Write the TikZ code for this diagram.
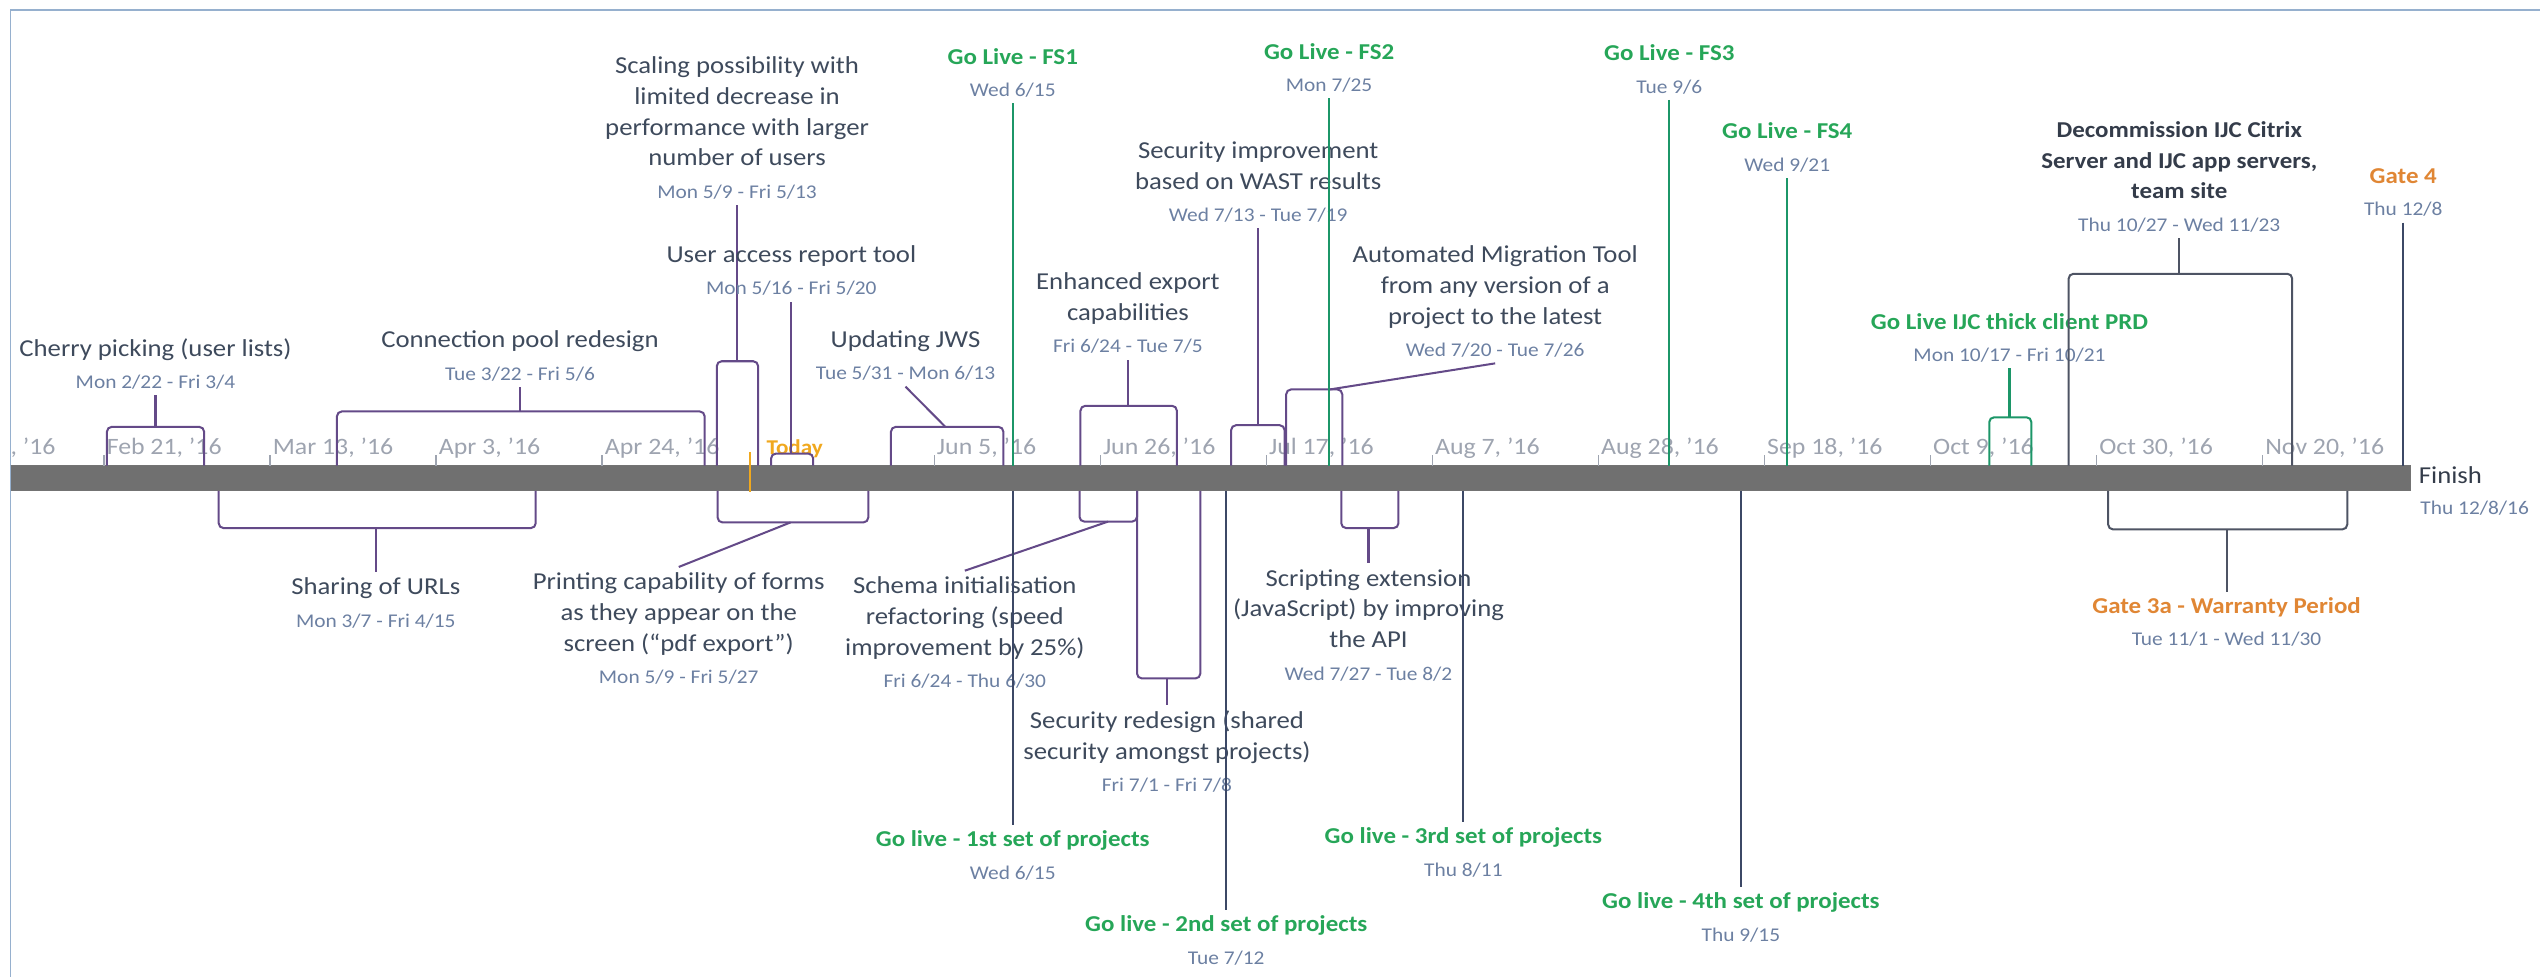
\documentclass[tikz,border=0pt]{standalone}
\usepackage{fontspec}
\setmainfont{Carlito}[FakeStretch=1.1]
\usepackage{tikz}
\usetikzlibrary{positioning}

\definecolor{taskcol}{RGB}{100,74,136}
\definecolor{labelcol}{RGB}{62,74,92}
\definecolor{datecol}{RGB}{108,128,162}
\definecolor{golive}{RGB}{38,166,88}
\definecolor{gocol}{RGB}{28,150,104}
\definecolor{navy}{RGB}{60,72,102}
\definecolor{slate}{RGB}{78,84,100}
\definecolor{gateor}{RGB}{224,134,52}
\definecolor{todayor}{RGB}{240,168,30}
\definecolor{tickcol}{RGB}{158,164,176}
\definecolor{barcol}{RGB}{112,112,112}
\definecolor{framecol}{RGB}{150,176,206}
\definecolor{deccol}{RGB}{52,60,74}

\newcommand\wdate[1]{{\mdseries\fontsize{12}{19}\selectfont\color{datecol}#1}}

\begin{document}
\begin{tikzpicture}[x=1pt, y=-1pt,
  lbl/.style={align=center, inner sep=3.5pt, text=labelcol, font=\fontsize{15}{19}\selectfont},
  gl/.style={lbl, text=golive, font=\bfseries\fontsize{14}{19}\selectfont},
  gatel/.style={gl, text=gateor},
  decl/.style={gl, text=deccol},
  ticklbl/.style={anchor=base west, inner sep=0pt, text=tickcol, font=\fontsize{14.5}{16}\selectfont},
  task/.style={draw=taskcol, line width=1.25pt, rounded corners=3pt},
  gobr/.style={task, draw=gocol},
  slatebr/.style={task, draw=slate},
  goline/.style={draw=gocol, line width=1.25pt},
  navyline/.style={draw=navy, line width=1.25pt}]
\useasboundingbox (0,0) rectangle (1568,603);
\draw[framecol, line width=1pt] (6.5,603) -- (6.5,6.2) -- (1568,6.2);

% the bar
\fill[barcol] (6.5,287.5) rectangle (1488,303);
\draw[black!55, line width=0.6pt] (6.5,287.5) -- (1488,287.5) -- (1488,303) -- (6.5,303);
\draw[tickcol, line width=0.8pt] (64.2,281) -- (64.2,287.5) (166.7,281) -- (166.7,287.5)
  (269.2,281) -- (269.2,287.5) (371.7,281) -- (371.7,287.5) (576.7,281) -- (576.7,287.5)
  (679.2,281) -- (679.2,287.5) (781.7,281) -- (781.7,287.5) (884.2,281) -- (884.2,287.5)
  (986.7,281) -- (986.7,287.5) (1089.2,281) -- (1089.2,287.5) (1191.7,281) -- (1191.7,287.5)
  (1294.2,281) -- (1294.2,287.5) (1396.7,281) -- (1396.7,287.5);
\node[ticklbl, anchor=base east] (jan31) at (34.5,280.5) {, '16};
\node[ticklbl] (feb21) at (65.7,280.5) {Feb 21, '16};
\node[ticklbl] (mar13) at (168.2,280.5) {Mar 13, '16};
\node[ticklbl] (apr3) at (270.7,280.5) {Apr 3, '16};
\node[ticklbl] (apr24) at (373.2,280.5) {Apr 24, '16};
\node[ticklbl] (jun5) at (578.2,280.5) {Jun 5, '16};
\node[ticklbl] (jun26) at (680.7,280.5) {Jun 26, '16};
\node[ticklbl] (jul17) at (783.2,280.5) {Jul 17, '16};
\node[ticklbl] (aug7) at (885.7,280.5) {Aug 7, '16};
\node[ticklbl] (aug28) at (988.2,280.5) {Aug 28, '16};
\node[ticklbl] (sep18) at (1090.7,280.5) {Sep 18, '16};
\node[ticklbl] (oct9) at (1193.2,280.5) {Oct 9, '16};
\node[ticklbl] (oct30) at (1295.7,280.5) {Oct 30, '16};
\node[ticklbl] (nov20) at (1398.2,280.5) {Nov 20, '16};
\node[ticklbl, text=todayor, font=\bfseries\fontsize{13}{16}\selectfont] (today) at (473,280.5) {Today};
\node[anchor=base west, inner sep=0pt, text=deccol, font=\fontsize{15}{19}\selectfont] (finish) at (1493,298.5) {Finish};
\node[anchor=base west, inner sep=0pt, text=datecol, font=\fontsize{12}{19}\selectfont] (finish-d) at (1494,317.8) {Thu 12/8/16};

% tasks above
\coordinate (cherry-t) at (96,263.5);
\draw[task] (66,287.5) |- (cherry-t) -| (126,287.5);
\node[lbl, above] (cherry) at (96,244) {Cherry picking (user lists)\\[1pt]\wdate{Mon 2/22 - Fri 3/4}};
\draw[task] (cherry-t) -- (cherry);

\coordinate (pool-t) at (321,254);
\draw[task] (208,287.5) |- (pool-t) -| (435,287.5);
\node[lbl, above] (pool) at (321,239) {Connection pool redesign\\[1pt]\wdate{Tue 3/22 - Fri 5/6}};
\draw[task] (pool-t) -- (pool);

\coordinate (scale-t) at (455,223);
\draw[task] (442.5,287.5) |- (scale-t) -| (468,287.5);
\node[lbl, above] (scale) at (455,126.6) {Scaling possibility with\\limited decrease in\\performance with larger\\number of users\\[1pt]\wdate{Mon 5/9 - Fri 5/13}};
\draw[task] (scale-t) -- (scale);

\coordinate (access-t) at (488.5,280);
\draw[task] (476,287.5) |- (access-t) -| (502,287.5);
\node[lbl, above] (access) at (488.5,186.3) {User access report tool\\[1pt]\wdate{Mon 5/16 - Fri 5/20}};
\draw[task] (access-t) -- (access);

\coordinate (jws-t) at (583.6,263.5);
\draw[task] (550,287.5) |- (jws-t) -| (619.4,287.5);
\node[lbl, above] (jws) at (559,238.7) {Updating JWS\\[1pt]\wdate{Tue 5/31 - Mon 6/13}};
\draw[task] (jws-t) -- (jws.south);

\coordinate (export-t) at (696.3,250.5);
\draw[task] (667,287.5) |- (export-t) -| (726.5,287.5);
\node[lbl, above] (export) at (696.3,222) {Enhanced export\\capabilities\\[1pt]\wdate{Fri 6/24 - Tue 7/5}};
\draw[task] (export-t) -- (export);

\coordinate (wast-t) at (776.7,262.5);
\draw[task] (760,287.5) |- (wast-t) -| (793,287.5);
\node[lbl, above] (wast) at (776.7,141) {Security improvement\\based on WAST results\\[1pt]\wdate{Wed 7/13 - Tue 7/19}};
\draw[task] (wast-t) -- (wast);

\coordinate (migr-t) at (821,240.4);
\draw[task] (794,287.5) |- (migr-t) -| (828.6,287.5);
\node[lbl, above] (migr) at (923,224.3) {Automated Migration Tool\\from any version of a\\project to the latest\\[1pt]\wdate{Wed 7/20 - Tue 7/26}};
\draw[task] (migr-t) -- (migr.south);

\coordinate (ijc-t) at (1240.5,257.6);
\draw[gobr] (1228,287.5) |- (ijc-t) -| (1254,287.5);
\node[gl, above] (ijc) at (1240.5,227.4) {Go Live IJC thick client PRD\\[1pt]\wdate{Mon 10/17 - Fri 10/21}};
\draw[goline] (ijc-t) -- (ijc);

\coordinate (decom-t) at (1345.3,169);
\draw[slatebr] (1277,287.5) |- (decom-t) -| (1415,287.5);
\node[decl, above] (decom) at (1345.3,147) {Decommission IJC Citrix\\Server and IJC app servers,\\team site\\[1pt]\wdate{Thu 10/27 - Wed 11/23}};
\draw[slatebr] (decom-t) -- (decom);

% milestones above
\coordinate (fs1-b) at (625.2,287.5);
\node[gl, above] (fs1) at (625.2,63.8) {Go Live - FS1\\[1pt]\wdate{Wed 6/15}};
\draw[goline] (fs1) -- (fs1-b);
\coordinate (fs2-b) at (820.5,287.5);
\node[gl, above] (fs2) at (820.5,60.7) {Go Live - FS2\\[1pt]\wdate{Mon 7/25}};
\draw[goline] (fs2) -- (fs2-b);
\coordinate (fs3-b) at (1030.5,287.5);
\node[gl, above] (fs3) at (1030.5,61.7) {Go Live - FS3\\[1pt]\wdate{Tue 9/6}};
\draw[goline] (fs3) -- (fs3-b);
\coordinate (fs4-b) at (1103.3,287.5);
\node[gl, above] (fs4) at (1103.3,110) {Go Live - FS4\\[1pt]\wdate{Wed 9/21}};
\draw[goline] (fs4) -- (fs4-b);
\coordinate (gate4-b) at (1483.6,287.5);
\node[gatel, above] (gate4) at (1483.6,137.5) {Gate 4\\[1pt]\wdate{Thu 12/8}};
\draw[navyline] (gate4) -- (gate4-b);

% tasks below
\coordinate (url-t) at (232,326);
\draw[task] (135,303) |- (url-t) -| (330.7,303);
\node[lbl, below] (url) at (232,353) {Sharing of URLs\\[1pt]\wdate{Mon 3/7 - Fri 4/15}};
\draw[task] (url-t) -- (url);

\coordinate (pdf-t) at (488,322.5);
\draw[task] (443,303) |- (pdf-t) -| (536,303);
\node[lbl, below] (pdf) at (419,350) {Printing capability of forms\\as they appear on the\\screen (“pdf export”)\\[1pt]\wdate{Mon 5/9 - Fri 5/27}};
\draw[task] (pdf-t) -- (pdf.north);

\coordinate (schema-t) at (684,322);
\draw[task] (666.4,303) |- (schema-t) -| (701.9,303);
\node[lbl, below] (schema) at (595.6,352.3) {Schema initialisation\\refactoring (speed\\improvement by 25\%)\\[1pt]\wdate{Fri 6/24 - Thu 6/30}};
\draw[task] (schema-t) -- (schema.north);

\coordinate (secred-t) at (720.4,418.8);
\draw[task] (701.9,303) |- (secred-t) -| (741,303);
\node[lbl, below] (secred) at (720.4,435.2) {Security redesign (shared\\security amongst projects)\\[1pt]\wdate{Fri 7/1 - Fri 7/8}};
\draw[task] (secred-t) -- (secred);

\coordinate (script-t) at (844.8,326);
\draw[task] (828,303) |- (script-t) -| (863.3,303);
\node[lbl, below] (script) at (844.8,347.8) {Scripting extension\\(JavaScript) by improving\\the API\\[1pt]\wdate{Wed 7/27 - Tue 8/2}};
\draw[task] (script-t) -- (script);

\coordinate (warranty-t) at (1374.5,326.8);
\draw[slatebr] (1301.4,303) |- (warranty-t) -| (1449,303);
\node[gatel, below] (warranty) at (1374.5,365.2) {Gate 3a - Warranty Period\\[1pt]\wdate{Tue 11/1 - Wed 11/30}};
\draw[slatebr] (warranty-t) -- (warranty);

% milestones below
\coordinate (set1-b) at (625.2,303);
\node[gl, below] (set1) at (625.2,509.3) {Go live - 1st set of projects\\[1pt]\wdate{Wed 6/15}};
\draw[navyline] (set1-b) -- (set1);
\coordinate (set2-b) at (757,303);
\node[gl, below] (set2) at (757,561.8) {Go live - 2nd set of projects\\[1pt]\wdate{Tue 7/12}};
\draw[navyline] (set2-b) -- (set2);
\coordinate (set3-b) at (903.4,303);
\node[gl, below] (set3) at (903.4,507.3) {Go live - 3rd set of projects\\[1pt]\wdate{Thu 8/11}};
\draw[navyline] (set3-b) -- (set3);
\coordinate (set4-b) at (1074.7,303);
\node[gl, below] (set4) at (1074.7,547.4) {Go live - 4th set of projects\\[1pt]\wdate{Thu 9/15}};
\draw[navyline] (set4-b) -- (set4);

\draw[todayor, line width=0.8pt] (463,279) -- (463,303.5);
\end{tikzpicture}
\end{document}
